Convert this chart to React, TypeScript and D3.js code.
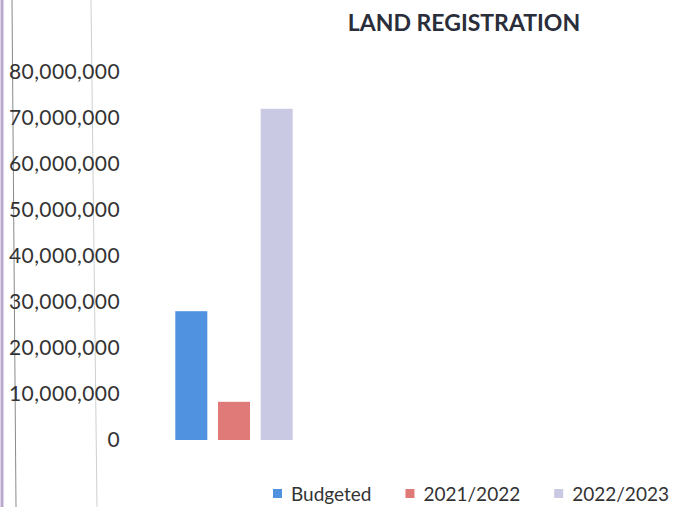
import { useEffect, useRef } from 'react';
import * as d3 from 'd3';

const categories = ['Land Registration'];
const seriesNames = ['Budgeted', '2021/2022', '2022/2023'];
const seriesValues = [28000000, 8300000, 72000000];
const seriesColors = ['#5091e0', '#e07a78', '#c9c9e3'];
const yTickValues = [0, 10000000, 20000000, 30000000, 40000000, 50000000, 60000000, 70000000, 80000000];
const chartTitle = 'LAND REGISTRATION';

function App() {
  const svgRef = useRef<SVGSVGElement>(null);

  useEffect(() => {
    const width = 677,
      height = 507;
    const svg = d3.select(svgRef.current);
    svg.selectAll('*').remove();

    svg.append('rect').attr('width', width).attr('height', height).attr('fill', '#fff');

    // faint sheet lines at the left edge
    svg.append('line').attr('x1', 2).attr('x2', 2).attr('y1', 0).attr('y2', height)
      .attr('stroke', '#b9a9cc').attr('stroke-width', 3);
    svg.append('line').attr('x1', 12).attr('x2', 16).attr('y1', 0).attr('y2', height)
      .attr('stroke', '#8a8a8a').attr('stroke-width', 1);
    svg.append('line').attr('x1', 91).attr('x2', 97).attr('y1', 0).attr('y2', height)
      .attr('stroke', '#cfcfcf').attr('stroke-width', 1);

    const y = d3.scaleLinear().domain([0, 80000000]).range([440, 72]);

    const x0 = d3.scaleBand().domain(categories).range([125, 343]).padding(0.3);
    const x1 = d3
      .scaleBand()
      .domain(seriesNames)
      .range([0, x0.bandwidth()])
      .paddingInner(0.25);

    const fmt = d3.format(',');

    svg
      .append('g')
      .selectAll('text')
      .data(yTickValues)
      .join('text')
      .attr('x', 120)
      .attr('y', (d) => y(d))
      .attr('dy', '0.35em')
      .attr('text-anchor', 'end')
      .attr('font-family', 'Lato, sans-serif')
      .attr('font-size', 21)
      .attr('letter-spacing', 0.4)
      .attr('fill', '#333')
      .text((d) => fmt(d));

    const group = svg
      .append('g')
      .selectAll('g')
      .data(categories)
      .join('g')
      .attr('transform', (d) => `translate(${x0(d)},0)`);

    group
      .selectAll('rect')
      .data(seriesNames.map((name, i) => ({ name, value: seriesValues[i], color: seriesColors[i] })))
      .join('rect')
      .attr('x', (d) => x1(d.name)!)
      .attr('width', x1.bandwidth())
      .attr('y', (d) => y(d.value))
      .attr('height', (d) => y(0) - y(d.value))
      .attr('fill', (d) => d.color);

    svg
      .append('text')
      .attr('x', 464)
      .attr('y', 31)
      .attr('text-anchor', 'middle')
      .attr('font-family', 'Lato, sans-serif')
      .attr('font-weight', 'bold')
      .attr('font-size', 23)
      .attr('fill', '#2a2d3a')
      .text(chartTitle);

    // legend, laid out from measured text widths
    const legend = svg.append('g');
    let lx = 273;
    seriesNames.forEach((name, i) => {
      legend
        .append('rect')
        .attr('x', lx)
        .attr('y', 489)
        .attr('width', 9)
        .attr('height', 9)
        .attr('fill', seriesColors[i]);
      const t = legend
        .append('text')
        .attr('x', lx + 18)
        .attr('y', 501)
        .attr('font-family', 'Lato, sans-serif')
        .attr('font-size', 19)
        .attr('fill', '#333')
        .text(name);
      const w = (t.node() as SVGTextElement).getComputedTextLength();
      lx += 18 + w + 34;
    });
  }, []);

  return (
    <div>
      <svg ref={svgRef} width={677} height={507} style={{ display: 'block', position: 'absolute', left: 0, top: 0 }} />
    </div>
  );
}

export default App;
